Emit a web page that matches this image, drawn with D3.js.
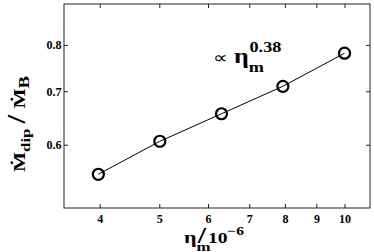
<!DOCTYPE html>
<html>
<head>
<meta charset="utf-8">
<script src="https://cdn.jsdelivr.net/npm/d3@7"></script>
<style>
  body { margin: 0; background: #fff; }
  text { font-family: "Liberation Serif", "Times New Roman", serif; font-weight: bold; fill: #000; }
</style>
</head>
<body>
<svg id="chart" width="374" height="252"></svg>
<script>
// eta_m in units of 1e-6, and Mdot_dip / Mdot_B
const etaM = [3.98, 5.01, 6.31, 7.94, 10];
const ratio = [0.551, 0.606, 0.656, 0.710, 0.781];
const xTicks = [4, 5, 6, 7, 8, 9, 10];
const yTicks = [0.6, 0.7, 0.8];

const svg = d3.select('#chart');
const width = +svg.attr('width');
const height = +svg.attr('height');
const margin = {top: 4, right: 4, bottom: 44, left: 64};
const innerWidth = width - margin.left - margin.right;
const innerHeight = height - margin.top - margin.bottom;

const xScale = d3.scaleLog().domain([3.5, 11]).range([0, innerWidth]);
const yScale = d3.scaleLog().domain([0.5, 0.9]).range([innerHeight, 0]);

const g = svg.append('g')
    .attr('transform', `translate(${margin.left},${margin.top})`);

// box
g.append('rect')
    .attr('width', innerWidth).attr('height', innerHeight)
    .attr('fill', 'none').attr('stroke', '#222').attr('stroke-width', 1);

const tickLen = 4;
const styleAxis = sel => {
    sel.select('.domain').remove();
    sel.selectAll('line').attr('stroke', '#222');
    sel.selectAll('text')
        .style('font-size', '12px')
        .style('font-family', '"Liberation Serif", serif')
        .style('font-weight', 'bold');
};
const noLabels = sel => sel.selectAll('text').remove();

g.append('g')
    .attr('transform', `translate(0,${innerHeight})`)
    .call(d3.axisBottom(xScale).tickValues(xTicks).tickFormat(d3.format('d'))
        .tickSizeInner(-tickLen).tickPadding(6))
    .call(styleAxis);
g.append('g')
    .call(d3.axisTop(xScale).tickValues(xTicks).tickSizeInner(-tickLen))
    .call(styleAxis).call(noLabels);
g.append('g')
    .call(d3.axisLeft(yScale).tickValues(yTicks).tickFormat(d3.format('.1f'))
        .tickSizeInner(-tickLen).tickPadding(2.5))
    .call(styleAxis);
g.append('g')
    .attr('transform', `translate(${innerWidth},0)`)
    .call(d3.axisRight(yScale).tickValues(yTicks).tickSizeInner(-tickLen))
    .call(styleAxis).call(noLabels);

const points = etaM.map((e, i) => ({x: e, y: ratio[i]}));

g.append('path')
    .datum(points)
    .attr('fill', 'none')
    .attr('stroke', '#000')
    .attr('stroke-width', 1)
    .attr('d', d3.line().x(d => xScale(d.x)).y(d => yScale(d.y)));

g.selectAll('circle').data(points)
    .enter().append('circle')
        .attr('cx', d => xScale(d.x))
        .attr('cy', d => yScale(d.y))
        .attr('r', 5.5)
        .attr('fill', 'none')
        .attr('stroke', '#000')
        .attr('stroke-width', 2.2);

// annotation: proportional to eta_m^0.38 (text is drawn a bit wide, like the original)
const ann = svg.append('text').attr('transform', 'translate(213,63) scale(1.3,1)');
ann.append('tspan').style('font-size', '16px').style('font-weight', 'normal').text('\u221D ');
ann.append('tspan').style('font-size', '20px').text('\u03B7');
ann.append('tspan').attr('dy', 9).style('font-size', '14px').text('m');
ann.append('tspan').attr('dx', -11).attr('dy', -20).style('font-size', '14px').text('0.38');

// x label
const xl = svg.append('text').attr('transform', 'translate(184,243) scale(1.3,1)');
xl.append('tspan').style('font-size', '17px').text('\u03B7');
xl.append('tspan').attr('dy', 8).style('font-size', '13px').text('m');
xl.append('tspan').attr('dx', -10).attr('dy', -8).style('font-size', '23px').text('/');
xl.append('tspan').attr('dx', 1.5).style('font-size', '15px').text('10');
xl.append('tspan').attr('dy', -8).style('font-size', '12px').text('\u22126');

// y label
const yl = svg.append('text')
    .attr('transform', 'translate(25,172) rotate(-90) scale(1.25,1)');
yl.append('tspan').style('font-size', '17px').text('\u1E40');
yl.append('tspan').attr('dy', 5).style('font-size', '13.5px').text('dip');
yl.append('tspan').attr('dx', 4).attr('dy', -5).style('font-size', '25px').text('/');
yl.append('tspan').attr('dx', 5).style('font-size', '17px').text('\u1E40');
yl.append('tspan').attr('dy', 4).style('font-size', '15px').text('B');
</script>
</body>
</html>
